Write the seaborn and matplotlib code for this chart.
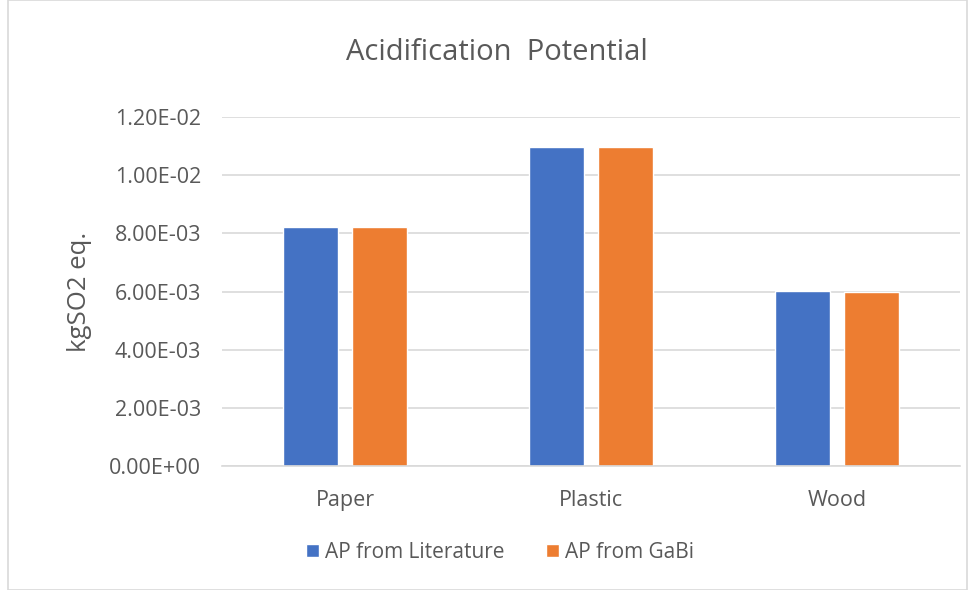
import matplotlib
matplotlib.use("Agg")
import matplotlib.pyplot as plt
import seaborn as sns
import pandas as pd
from matplotlib.patches import Rectangle
from matplotlib.ticker import FuncFormatter

categories = ["Paper", "Plastic", "Wood"]
series_names = ["AP from Literature", "AP from GaBi"]
lit_values = [8.21e-3, 1.096e-2, 6.01e-3]
gabi_values = [8.21e-3, 1.096e-2, 5.98e-3]
y_ticks = [0, 0.002, 0.004, 0.006, 0.008, 0.010, 0.012]

rows = []
for c, v in zip(categories, lit_values):
    rows.append({"Category": c, "Series": series_names[0], "Value": v})
for c, v in zip(categories, gabi_values):
    rows.append({"Category": c, "Series": series_names[1], "Value": v})
df = pd.DataFrame(rows)

sns.set_theme(style="white")
plt.rcParams["font.family"] = ["Open Sans", "DejaVu Sans"]

txt = "#595959"
fig = plt.figure(figsize=(9.75, 5.9), dpi=100)
ax = fig.add_axes([222/975, 1-466/590, (960-222)/975, (466-117)/590])

sns.barplot(data=df, x="Category", y="Value", hue="Series",
            palette=["#4472C4", "#ED7D31"], width=0.56, gap=0.2,
            ax=ax, legend=True, saturation=1)

ax.set_ylim(0, 0.012)
ax.set_yticks(y_ticks)
ax.yaxis.set_major_formatter(FuncFormatter(lambda v, p: f"{v:.2E}"))
ax.grid(axis="y", color="#d9d9d9", linewidth=1.2)
ax.set_axisbelow(True)
for s in ["top", "right", "left"]:
    ax.spines[s].set_visible(False)
ax.spines["bottom"].set_color("#d9d9d9")
ax.spines["bottom"].set_linewidth(1.2)
ax.tick_params(axis="y", colors=txt, labelsize=15.5, length=0, pad=15)
ax.tick_params(axis="x", colors=txt, labelsize=15.5, length=0, pad=17)
ax.set_xlabel("")
ax.set_ylabel("kgSO2 eq.", color=txt, fontsize=18.5, labelpad=12)
for lab in ax.get_yticklabels() + ax.get_xticklabels():
    lab.set_color(txt)

fig.text(497/975, 1 - 53/590, "Acidification  Potential",
         ha="center", va="center", fontsize=21, color=txt)

handles, labels = ax.get_legend_handles_labels()
ax.legend_.remove()
leg = fig.legend(handles, labels, loc="center", bbox_to_anchor=(500/975, 1-552/590),
                 ncol=2, frameon=False, fontsize=15, handlelength=0.6,
                 handleheight=0.6, columnspacing=2.0, handletextpad=0.3)
for t in leg.get_texts():
    t.set_color(txt)

fig.patches.append(Rectangle((8/975, 0), 1 - 16/975, 1, transform=fig.transFigure,
                             fill=False, edgecolor="#d9d9d9", linewidth=1.2))

fig.savefig("out.png", dpi=100)
